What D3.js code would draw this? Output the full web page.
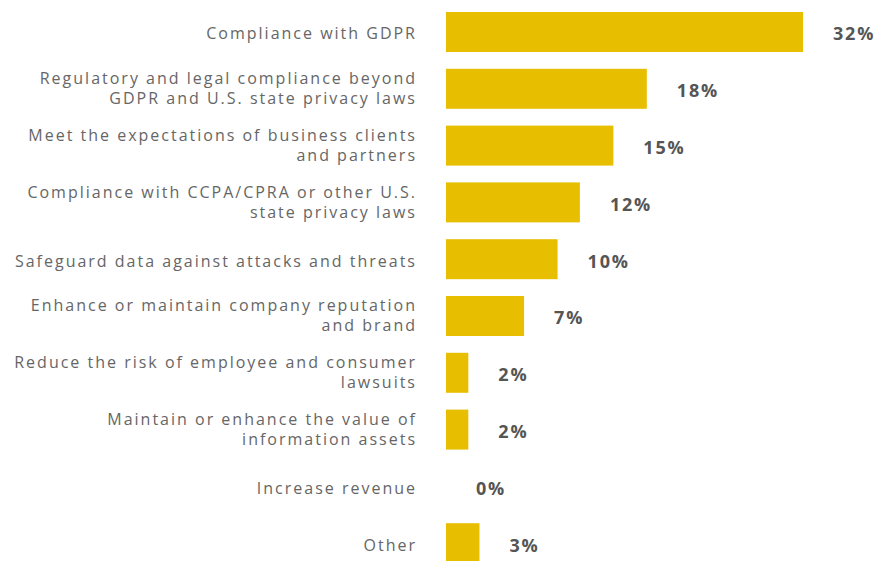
<!DOCTYPE html>
<html><head><meta charset="utf-8">
<script src="https://cdn.jsdelivr.net/npm/d3@7"></script>
<style>html,body{margin:0;padding:0;background:#fff;}svg{display:block;}</style>
</head><body>
<svg id="chart" width="882" height="561"></svg>
<script>
const categories = [
  ["Compliance with GDPR"],
  ["Regulatory and legal compliance beyond", "GDPR and U.S. state privacy laws"],
  ["Meet the expectations of business clients", "and partners"],
  ["Compliance with CCPA/CPRA or other U.S.", "state privacy laws"],
  ["Safeguard data against attacks and threats"],
  ["Enhance or maintain company reputation", "and brand"],
  ["Reduce the risk of employee and consumer", "lawsuits"],
  ["Maintain or enhance the value of", "information assets"],
  ["Increase revenue"],
  ["Other"]
];
const values = [32, 18, 15, 12, 10, 7, 2, 2, 0, 3];
const valueLabels = ["32%", "18%", "15%", "12%", "10%", "7%", "2%", "2%", "0%", "3%"];

const svg = d3.select("#chart");
const ids = d3.range(values.length);
const x = d3.scaleLinear().domain([0, 32]).range([446, 803]);
const y = d3.scaleBand().domain(ids).range([0, 568]).paddingInner(0.296).paddingOuter(0.148);
const y0 = 12 - y(0);

const g = svg.append("g").attr("transform", `translate(0,${y0})`);

g.selectAll("rect.bar").data(ids).join("rect")
  .attr("class", "bar")
  .attr("x", x(0))
  .attr("y", i => y(i))
  .attr("width", i => x(values[i]) - x(0))
  .attr("height", y.bandwidth())
  .attr("fill", "#E7BE00");

g.selectAll("text.val").data(ids).join("text")
  .attr("class", "val")
  .attr("x", i => x(values[i]) + 30)
  .attr("y", i => y(i) + y.bandwidth() / 2 + 8.5)
  .attr("font-family", "'Open Sans', sans-serif")
  .attr("font-weight", 700)
  .attr("font-size", 18)
  .attr("letter-spacing", 1.8)
  .attr("fill", "#555")
  .text(i => valueLabels[i]);

const labels = g.selectAll("text.cat").data(ids).join("text")
  .attr("class", "cat")
  .attr("text-anchor", "end")
  .attr("font-family", "'Open Sans', sans-serif")
  .attr("font-size", 16)
  .attr("letter-spacing", 2)
  .attr("fill", "#666")
  .attr("y", i => y(i) + y.bandwidth() / 2);

labels.each(function(i) {
  const lines = categories[i];
  const lh = 20;
  const first = lines.length === 1 ? 7.5 : -4.5;
  d3.select(this).selectAll("tspan").data(lines).join("tspan")
    .attr("x", 417)
    .attr("dy", (d, k) => k === 0 ? first : lh)
    .text(d => d);
});
</script>
</body></html>
